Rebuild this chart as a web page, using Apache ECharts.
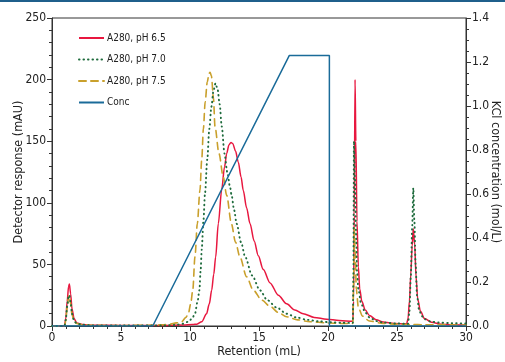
<!DOCTYPE html>
<html>
<head>
<meta charset="utf-8">
<script src="https://cdn.jsdelivr.net/npm/echarts@6/dist/echarts.min.js"></script>
<style>
  html, body { margin: 0; padding: 0; background: #fff; }
  #chart { width: 505px; height: 362px; }
</style>
</head>
<body>
<div id="chart"></div>
<script>
// retention (mL), absorbance (mAU) pairs
const ph65 = [
  [0, 0], [0.9, 0], [1.0, 6], [1.1, 20], [1.2, 32], [1.26, 34], [1.35, 26], [1.45, 14], [1.6, 6], [1.8, 2.5],
  [2.2, 1.2], [3, 0.6], [5, 0.5], [8, 0.5], [9.5, 0.8], [10.2, 1.2], [10.5, 1.5], [10.85, 3.5], [11.2, 10],
  [11.4, 18], [11.57, 29], [11.72, 42], [11.86, 56], [12.05, 83], [12.3, 111], [12.5, 129], [12.66, 140],
  [12.82, 147], [12.97, 149], [13.1, 148], [13.3, 142], [13.5, 133], [13.7, 121], [13.86, 110], [14.1, 96],
  [14.35, 83], [14.65, 69], [14.95, 57], [15.3, 46], [15.8, 35], [16.4, 25], [17.0, 18], [17.6, 13],
  [18.2, 10], [19.0, 7], [19.9, 5.5], [20.8, 4.5], [21.8, 3.8], [21.85, 20], [21.9, 90], [21.96, 200],
  [22.02, 150], [22.1, 85], [22.2, 48], [22.3, 30], [22.45, 20], [22.7, 13], [23.0, 8.5], [23.5, 5],
  [24.0, 3.2], [24.8, 2], [25.7, 1.8], [25.8, 6], [25.9, 20], [26.0, 42], [26.1, 65], [26.18, 79],
  [26.28, 66], [26.38, 40], [26.5, 22], [26.7, 12], [27.0, 6], [27.5, 3], [28.2, 1.5], [29, 1], [30, 0.8]
];
const ph70 = [
  [0, 0], [0.9, 0], [1.0, 5], [1.1, 16], [1.2, 24], [1.26, 25], [1.35, 19], [1.45, 10], [1.6, 4], [1.8, 2],
  [2.2, 1], [3, 0.5], [5, 0.4], [8, 0.5], [9, 0.9], [9.5, 1.8], [9.88, 3.5], [10.15, 6], [10.36, 10],
  [10.55, 20], [10.68, 29], [10.77, 45], [10.85, 62], [10.97, 85], [11.09, 108], [11.25, 135], [11.4, 160],
  [11.55, 178], [11.7, 191], [11.85, 197], [12.0, 192], [12.15, 180], [12.3, 162], [12.5, 140], [12.7, 125],
  [12.9, 113], [13.0, 107], [13.2, 94], [13.38, 83], [13.7, 68], [14.0, 56], [14.5, 41], [15.07, 29],
  [15.6, 21], [16.28, 15], [17.0, 10], [17.7, 7], [18.5, 5], [19.3, 3.8], [20.2, 3], [21.0, 2.6],
  [21.8, 2.5], [21.84, 40], [21.88, 150], [21.95, 120], [22.05, 70], [22.1, 45], [22.2, 30], [22.4, 18],
  [22.7, 11], [23, 7], [23.5, 4], [24, 2.8], [25, 2], [25.8, 1.8], [25.9, 12], [26.0, 40], [26.1, 80],
  [26.18, 112], [26.26, 85], [26.35, 50], [26.45, 25], [26.6, 13], [26.8, 8], [27, 5.5], [27.5, 3.5],
  [28, 2.8], [29, 2.3], [30, 2]
];
const ph75 = [
  [0, 0], [0.9, 0], [1.0, 4], [1.1, 15], [1.2, 23], [1.26, 25], [1.35, 18], [1.45, 9], [1.6, 4], [1.8, 2],
  [2.2, 1], [3, 0.5], [5, 0.4], [7, 0.6], [8, 1], [8.55, 1.5], [9.0, 2.5], [9.4, 3.5], [9.7, 7], [9.88, 10],
  [10.05, 18], [10.2, 29], [10.36, 56], [10.53, 83], [10.72, 110], [10.85, 135], [10.97, 160], [11.1, 182],
  [11.25, 198], [11.38, 205], [11.45, 206], [11.55, 203], [11.7, 185], [11.81, 162], [12.1, 140],
  [12.41, 121], [12.66, 106], [13.0, 83], [13.3, 68], [13.62, 56], [14.1, 40], [14.59, 29], [15.2, 21],
  [15.8, 16], [16.4, 11], [17.0, 7.5], [17.8, 5], [18.7, 3.5], [19.9, 2.5], [21, 2], [21.8, 2],
  [21.85, 30], [21.9, 80], [21.97, 60], [22.05, 30], [22.2, 15], [22.5, 8], [23, 4], [24, 2], [25, 1.5],
  [26, 1.2], [27, 1], [30, 0.8]
];
// KCl gradient, mol/L
const conc = [[0, 0], [7.3, 0], [17.2, 1.23], [20.1, 1.23], [20.1, 0], [30, 0]];

const FONT = "'Liberation Sans Narrow', 'DejaVu Sans Condensed', 'Roboto', sans-serif";
const AXIS = "#333";

const chart = echarts.init(document.getElementById("chart"), null, { renderer: "canvas" });

const axisCommon = {
  axisLine: { show: true, lineStyle: { color: AXIS, width: 1 } },
  axisTick: { show: true, inside: false, length: 5, lineStyle: { color: AXIS } },
  splitLine: { show: false },
  axisLabel: { color: "#222", fontFamily: FONT, fontSize: 12, margin: 6 },
  nameTextStyle: { color: "#222", fontFamily: FONT, fontSize: 12.5 },
  nameLocation: "middle",
  nameMoveOverlap: false
};

function minor(n) {
  return { show: true, splitNumber: n, length: 3, lineStyle: { color: AXIS } };
}

function line(name, data, color, type, width, yIndex) {
  return {
    name, type: "line", data, yAxisIndex: yIndex,
    symbol: "none", smooth: 0.3, smoothMonotone: "x",
    lineStyle: { color, type, width, cap: type === "solid" ? "butt" : "round" },
    itemStyle: { color },
    silent: true, animation: false
  };
}

chart.setOption({
  animation: false,
  textStyle: { fontFamily: FONT },
  graphic: [{
    type: "line", shape: { x1: 0, y1: 1, x2: 505, y2: 1 },
    style: { stroke: "#1f5f8b", lineWidth: 2 }
  }],
  grid: {
    left: 52, right: 39, top: 18, bottom: 36,
    outerBoundsMode: "none", containLabel: false,
    show: true, borderColor: AXIS, borderWidth: 1
  },
  legend: {
    orient: "vertical", left: 78, top: 33, padding: 0,
    itemWidth: 25, itemHeight: 12, itemGap: 11.5,
    itemStyle: { opacity: 0 },
    textStyle: { fontFamily: FONT, fontSize: 10, color: "#222", padding: [0, 0, 0, -2] },
    data: ["A280, pH 6.5", "A280, pH 7.0", "A280, pH 7.5", "Conc"]
  },
  xAxis: Object.assign({}, axisCommon, {
    type: "value", min: 0, max: 30, interval: 5,
    minorTick: minor(5),
    name: "Retention (mL)", nameGap: 19
  }),
  yAxis: [
    Object.assign({}, axisCommon, {
      type: "value", min: 0, max: 250, interval: 50, position: "left",
      minorTick: minor(5),
      name: "Detector response (mAU)", nameGap: 27
    }),
    Object.assign({}, axisCommon, {
      type: "value", min: 0, max: 1.4, interval: 0.2, position: "right",
      minorTick: minor(4),
      name: "KCl concentration (mol/L)", nameGap: 23, nameRotate: -90,
      axisLabel: Object.assign({}, axisCommon.axisLabel, { formatter: v => v.toFixed(1) })
    })
  ],
  series: [
    line("A280, pH 6.5", ph65, "#e8173f", "solid", 1.5, 0),
    line("A280, pH 7.5", ph75, "#c9a02c", [7, 5], 1.6, 0),
    line("A280, pH 7.0", ph70, "#1e6b3c", [0.5, 4], 1.9, 0),
    Object.assign(line("Conc", conc, "#1a6b99", "solid", 1.5, 1), { smooth: false })
  ]
});
</script>
</body>
</html>
